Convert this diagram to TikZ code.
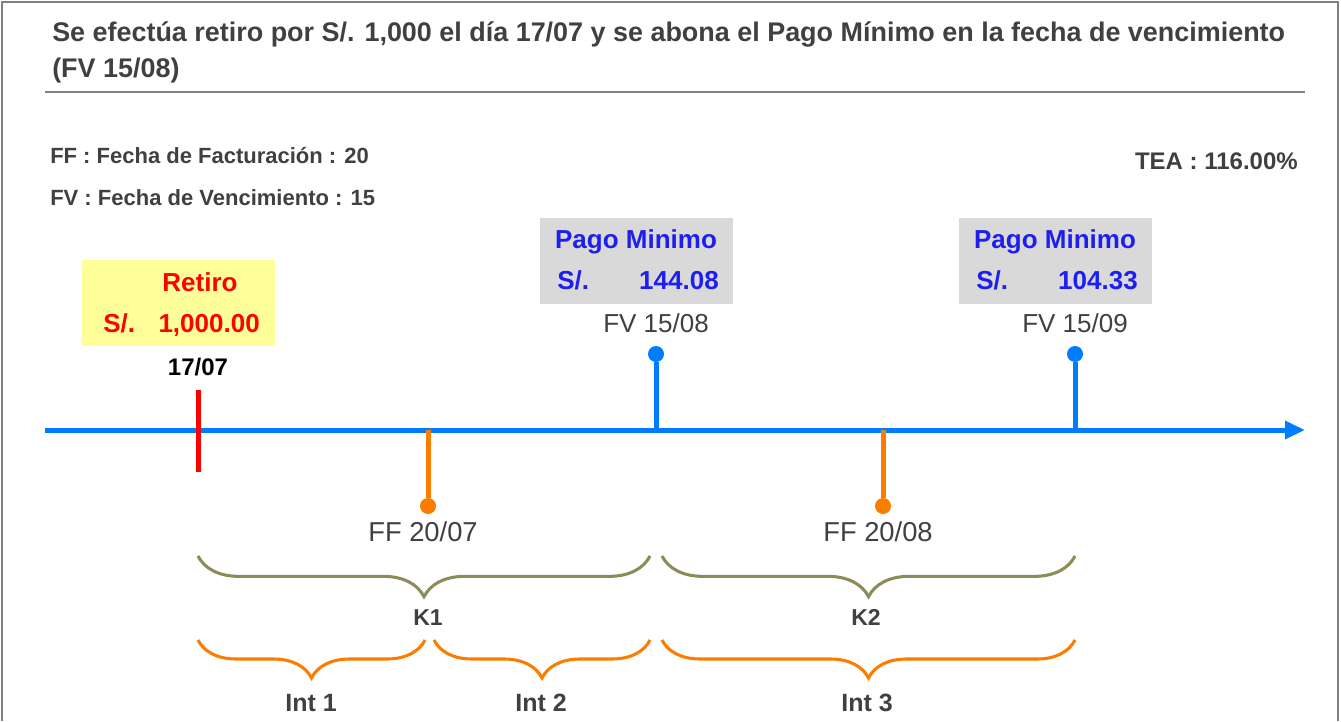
\documentclass[tikz,border=0pt]{standalone}
\usepackage{fontspec}
\setmainfont{Liberation Sans}
\usetikzlibrary{arrows.meta, decorations.pathreplacing}

\definecolor{tlblue}{RGB}{0,125,255}
\definecolor{tlorange}{RGB}{250,125,0}
\definecolor{braceolive}{RGB}{140,140,90}
\definecolor{txtgray}{RGB}{64,64,64}
\definecolor{boxgray}{RGB}{217,217,217}
\definecolor{boxyellow}{RGB}{255,255,153}
\definecolor{pmblue}{RGB}{30,30,240}

\begin{document}
\begin{tikzpicture}[x=0.75pt,y=-0.75pt,
  txt/.style={inner sep=0pt,text=txtgray,font=\fontsize{19.5}{22}\selectfont},
  btxt/.style={txt,font=\fontsize{#1}{22}\selectfont\bfseries},
  tick/.style={draw=#1,line width=3.75pt},
  dot/.style={circle,fill=#1,inner sep=0pt,minimum size=12pt},
  kbrace/.style={draw=braceolive,line width=2.3pt,decorate,
    decoration={brace,mirror,amplitude=30.5pt}},
  ibrace/.style={draw=tlorange,line width=2.3pt,decorate,
    decoration={brace,mirror,amplitude=28.5pt}},
  databox/.style={rectangle,inner sep=0pt,minimum width=144.5pt,minimum height=64.5pt}]
  \useasboundingbox (0,0) rectangle (1341,721);
  % frame and heading
  \draw[gray,line width=1.5pt] (2,721) -- (2,2) -- (1338,2) -- (1338,721);
  \node[btxt=20.2,anchor=base west] (title1) at (52,41)
    {Se efectúa retiro por S/. 1,000 el día 17/07 y se abona el Pago Mínimo en la fecha de vencimiento};
  \node[btxt=20.2,anchor=base west] (title2) at (52,77) {(FV 15/08)};
  \draw[gray,line width=1.2pt] (45,92) -- (1305,92);
  \node[btxt=16.5,anchor=base west] (ff) at (50,163) {FF : Fecha de Facturación : 20};
  \node[btxt=16.5,anchor=base west] (fv) at (50,205) {FV : Fecha de Vencimiento : 15};
  \node[btxt=18,anchor=base east] (tea) at (1298,169) {TEA : 116.00\%};

  % timeline
  \coordinate (t0) at (45,430);
  \coordinate (t1) at (1305,430);
  \draw[tick=tlblue,-{Triangle[length=15pt,width=13pt]}] (t0) -- (t1);

  % retiro
  \coordinate (ret) at (198,390);
  \coordinate (retb) at (198,472);
  \draw[tick=red] (ret) -- (retb);
  \node[databox,fill=boxyellow] (retbox) at (178.5,303) {};
  \node[btxt=19.5,text=red,anchor=base] (retlbl) at (200,291) {Retiro};
  \node[btxt=19.5,text=red,anchor=base west] (retsol) at (103,332) {S/.};
  \node[btxt=19.5,text=red,anchor=base east] (retamt) at (260,332) {1,000.00};
  \node[btxt=18,text=black,anchor=base] (d1707) at (198,375) {17/07};

  % vencimientos
  \foreach \n/\x/\d/\m in {1/656/15\slash 08/144.08, 2/1075/15\slash 09/104.33}{
    \coordinate (fv\n) at (\x,430);
    \node[dot=tlblue] (fvdot\n) at (\x,354) {};
    \draw[tick=tlblue] (fv\n) -- (fvdot\n);
    \node[txt,anchor=base] (fvlbl\n) at (\x,332) {FV \d};
    \node[databox,fill=boxgray] (pmbox\n) at (\x-19.5,260.5) {};
    \node[btxt=19.5,text=pmblue,anchor=base] (pmlbl\n) at (\x-20,248) {Pago Minimo};
    \node[btxt=19.5,text=pmblue,anchor=base west] (pmsol\n) at (\x-99,289) {S/.};
    \node[btxt=19.5,text=pmblue,anchor=base east] (pmamt\n) at (\x+63,289) {\m};
  }

  % facturacion
  \foreach \n/\x/\d in {1/428/20\slash 07, 2/883/20\slash 08}{
    \coordinate (ff\n) at (\x,430);
    \node[dot=tlorange] (ffdot\n) at (\x,506) {};
    \draw[tick=tlorange] (ff\n) -- (ffdot\n);
    \node[txt,font=\fontsize{20.5}{22}\selectfont,anchor=base] (fflbl\n) at (\x-5,541) {FF \d};
  }

  % capital and interest braces
  \draw[kbrace] (198,556) -- (650,556);
  \draw[kbrace] (662,556) -- (1075,556);
  \node[btxt=17.25,anchor=base] (k1) at (428,625) {K1};
  \node[btxt=17.25,anchor=base] (k2) at (866,625) {K2};
  \draw[ibrace] (198,640) -- (425,640);
  \draw[ibrace] (434,640) -- (650,640);
  \draw[ibrace] (662,640) -- (1075,640);
  \node[btxt=18.75,anchor=base] (int1) at (311,711) {Int 1};
  \node[btxt=18.75,anchor=base] (int2) at (541,711) {Int 2};
  \node[btxt=18.75,anchor=base] (int3) at (867,711) {Int 3};
\end{tikzpicture}
\end{document}
